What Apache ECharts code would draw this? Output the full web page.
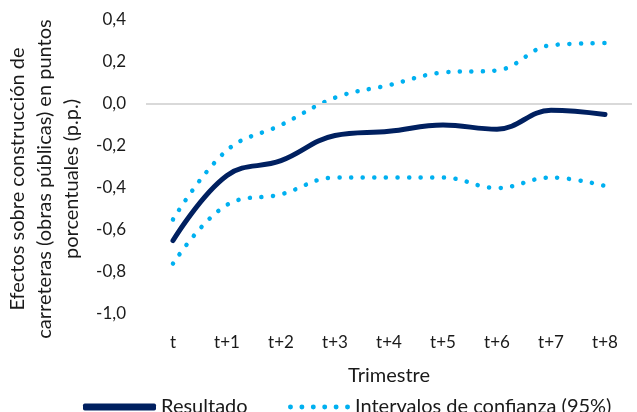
<!DOCTYPE html>
<html>
<head>
<meta charset="utf-8">
<script src="https://cdn.jsdelivr.net/npm/echarts@6/dist/echarts.min.js"></script>
<style>
  html, body { margin: 0; padding: 0; background: #fff; }
  #chart { width: 637px; height: 412px; }
</style>
</head>
<body>
<div id="chart"></div>
<script>
const categories = ['t', 't+1', 't+2', 't+3', 't+4', 't+5', 't+6', 't+7', 't+8'];
const resultado = [-0.65, -0.34, -0.27, -0.15, -0.13, -0.10, -0.12, -0.03, -0.05];
const ciUpper = [-0.55, -0.22, -0.10, 0.03, 0.09, 0.15, 0.16, 0.28, 0.29];
const ciLower = [-0.76, -0.48, -0.43, -0.35, -0.35, -0.35, -0.40, -0.35, -0.39];
const ciName = 'Intervalos de confianza (95%)';

const font = 'Lato, "Open Sans", sans-serif';
const textColor = '#1a1a1a';

// six round dots for the legend icon
const dotsIcon = 'path://' + [0, 1, 2, 3, 4, 5].map(i => {
    const cx = 2.5 + i * 11.5;
    return `M${cx - 2.5},2.5A2.5,2.5,0,1,1,${cx + 2.5},2.5A2.5,2.5,0,1,1,${cx - 2.5},2.5Z`;
}).join(' ');

const chart = echarts.init(document.getElementById('chart'));

const dotted = {
    color: '#00b0f0',
    width: 4.5,
    type: [0.1, 11.5],
    cap: 'round'
};

const legendText = { fontFamily: font, fontSize: 20, color: textColor };

chart.setOption({
    backgroundColor: '#fff',
    animation: false,
    textStyle: { fontFamily: font, color: textColor },
    grid: {
        left: 146,
        right: 5,
        top: 20,
        bottom: 98,
        containLabel: false,
        outerBoundsMode: 'none'
    },
    legend: [
        {
            top: 392,
            left: 78,
            itemWidth: 73,
            itemHeight: 7,
            data: [{ name: 'Resultado', icon: 'roundRect' }],
            textStyle: legendText
        },
        {
            top: 392,
            left: 283,
            itemWidth: 62,
            itemHeight: 5,
            data: [{ name: ciName, icon: dotsIcon }],
            textStyle: legendText
        }
    ],
    xAxis: {
        type: 'category',
        data: categories,
        name: 'Trimestre',
        nameLocation: 'middle',
        nameGap: 52,
        nameTextStyle: { fontSize: 20, color: textColor },
        axisLine: { show: false },
        axisTick: { show: false },
        axisLabel: { fontSize: 17, color: textColor, margin: 20 }
    },
    yAxis: {
        type: 'value',
        min: -1.0,
        max: 0.4,
        interval: 0.2,
        name: 'Efectos sobre construcción de\ncarreteras (obras públicas) en puntos\nporcentuales (p.p.)',
        nameLocation: 'middle',
        nameRotate: 90,
        nameGap: 60,
        nameTextStyle: { fontSize: 20, color: textColor, lineHeight: 27, padding: [0, 24, 0, 0] },
        axisLine: { show: false },
        axisTick: { show: false },
        splitLine: { show: false },
        axisLabel: {
            fontSize: 17,
            color: textColor,
            margin: 20,
            formatter: (v) => v.toFixed(1).replace('.', ',')
        }
    },
    series: [
        {
            name: 'Resultado',
            type: 'line',
            data: resultado,
            smooth: 0.4,
            symbol: 'none',
            z: 3,
            lineStyle: { color: '#002060', width: 5, cap: 'round' },
            itemStyle: { color: '#002060' },
            markLine: {
                silent: true,
                symbol: 'none',
                label: { show: false },
                lineStyle: { color: '#d9d9d9', width: 2, type: 'solid' },
                data: [{ yAxis: 0 }]
            }
        },
        {
            name: ciName,
            type: 'line',
            data: ciUpper,
            smooth: 0.4,
            symbol: 'none',
            lineStyle: dotted,
            itemStyle: { color: '#00b0f0' }
        },
        {
            name: ciName,
            type: 'line',
            data: ciLower,
            smooth: 0.4,
            symbol: 'none',
            lineStyle: dotted,
            itemStyle: { color: '#00b0f0' }
        }
    ]
});
</script>
</body>
</html>
